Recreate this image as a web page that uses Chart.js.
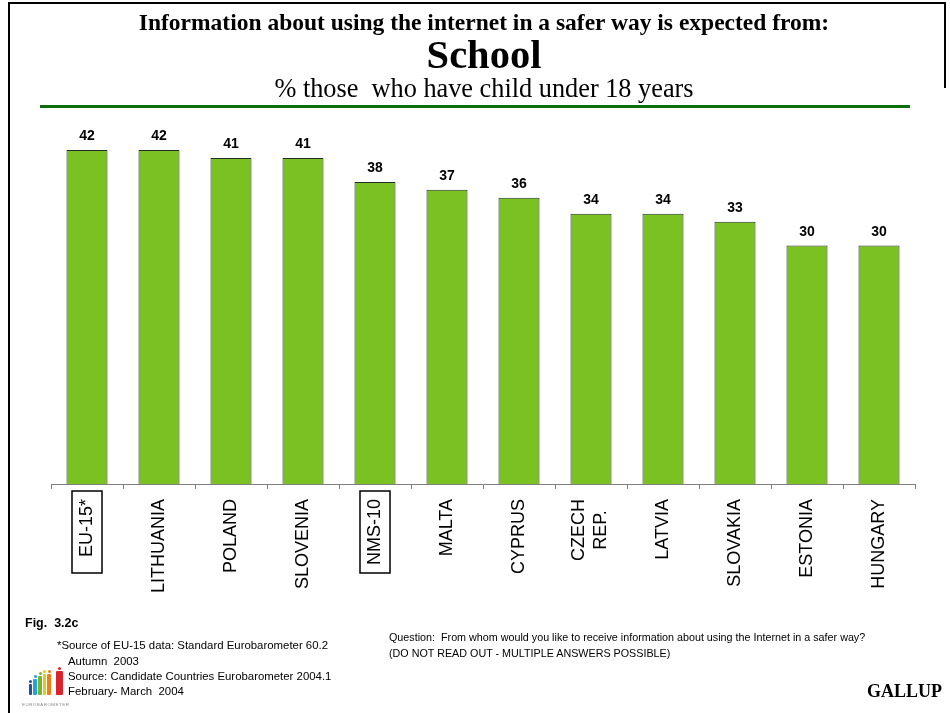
<!DOCTYPE html>
<html>
<head>
<meta charset="utf-8">
<title>School</title>
<script src="https://cdn.jsdelivr.net/npm/chart.js@4.4.0/dist/chart.umd.min.js"></script>
<style>
  html, body { margin: 0; padding: 0; background: #fff; }
  #page { position: relative; width: 950px; height: 713px; overflow: hidden; background: #fff; }
  #chart { position: absolute; left: 0; top: 0; }
  .txt { position: absolute; white-space: pre; line-height: 1; color: #000; }
  .serif { font-family: "Times New Roman", "Liberation Serif", serif; }
  .sans { font-family: Arial, "Liberation Sans", sans-serif; }
  .center { left: 0; width: 968px; text-align: center; }
  .rule { position: absolute; background: #000; }
  .logo-bar { position: absolute; border-radius: 1px; }
  .logo-head { position: absolute; width: 3px; height: 3px; border-radius: 50%; }
</style>
</head>
<body>
<div id="page">
  <canvas id="chart" width="950" height="713"></canvas>

  <!-- frame -->
  <div class="rule" style="left:8px; top:2px; width:938px; height:2px;"></div>
  <div class="rule" style="left:8px; top:2px; width:2px; height:711px;"></div>
  <div class="rule" style="left:944px; top:2px; width:2px; height:86px;"></div>

  <!-- headings -->
  <div class="txt serif center" style="top:10.5px; font-size:23.5px; font-weight:bold;">Information about using the internet in a safer way is expected from:</div>
  <div class="txt serif center" style="top:34.5px; font-size:40.5px; font-weight:bold;">School</div>
  <div class="txt serif center" style="top:76px; font-size:26.3px;">% those  who have child under 18 years</div>
  <div class="rule" style="left:40px; top:105px; width:870px; height:3px; background:#0d6e0d;"></div>

  <!-- footer notes -->
  <div class="txt sans" style="left:25px; top:616.5px; font-size:12.5px; font-weight:bold;">Fig.  3.2c</div>
  <div class="txt sans" style="left:57px; top:639.5px; font-size:11.4px;">*Source of EU-15 data: Standard Eurobarometer 60.2</div>
  <div class="txt sans" style="left:68px; top:655.5px; font-size:11.4px;">Autumn  2003</div>
  <div class="txt sans" style="left:68px; top:670.5px; font-size:11.4px;">Source: Candidate Countries Eurobarometer 2004.1</div>
  <div class="txt sans" style="left:68px; top:685.5px; font-size:11.4px;">February- March  2004</div>
  <div class="txt sans" style="left:389px; top:632px; font-size:10.75px;">Question:  From whom would you like to receive information about using the Internet in a safer way?</div>
  <div class="txt sans" style="left:389px; top:648px; font-size:10.75px;">(DO NOT READ OUT - MULTIPLE ANSWERS POSSIBLE)</div>
  <div class="txt serif" style="left:867px; top:682px; font-size:18px; font-weight:bold;">GALLUP</div>

  <!-- eurobarometer logo -->
  <div class="logo-bar" style="left:29px; top:684px; width:3px; height:11px; background:#1f4fa8;"></div>
  <div class="logo-head" style="left:29px; top:680px; background:#1f4fa8;"></div>
  <div class="logo-bar" style="left:33px; top:679px; width:4px; height:16px; background:#27a3d9;"></div>
  <div class="logo-head" style="left:33.5px; top:675px; background:#27a3d9;"></div>
  <div class="logo-bar" style="left:38px; top:676px; width:4px; height:19px; background:#74b72e;"></div>
  <div class="logo-head" style="left:38.5px; top:672px; background:#74b72e;"></div>
  <div class="logo-bar" style="left:43px; top:674px; width:3px; height:21px; background:#e8c916;"></div>
  <div class="logo-head" style="left:43px; top:670px; background:#e8c916;"></div>
  <div class="logo-bar" style="left:47px; top:674px; width:4px; height:21px; background:#ef7d1a;"></div>
  <div class="logo-head" style="left:47.5px; top:670px; background:#ef7d1a;"></div>
  <div class="logo-bar" style="left:56px; top:671px; width:7px; height:24px; background:#d9262e;"></div>
  <div class="logo-head" style="left:58px; top:667px; background:#d9262e;"></div>
  <div class="txt sans" style="left:22px; top:702px; font-size:6px; letter-spacing:0.6px; color:#8a8a8a; transform:scale(0.75,0.7); transform-origin:left top;">EUROBAROMETER</div>
</div>

<script>
// % of parents (child under 18) expecting school to inform about safer internet use
const countries = ['EU-15*', 'LITHUANIA', 'POLAND', 'SLOVENIA', 'NMS-10', 'MALTA', 'CYPRUS',
  ['CZECH', 'REP.'], 'LATVIA', 'SLOVAKIA', 'ESTONIA', 'HUNGARY'];
const schoolShare = [42, 42, 41, 41, 38, 37, 36, 34, 34, 33, 30, 30];
const boxedLabels = ['EU-15*', 'NMS-10'];

const labelFont = 'Arial, "Liberation Sans", sans-serif';

// value printed above each bar
const barValues = {
  id: 'barValues',
  afterDatasetsDraw(chart) {
    const { ctx } = chart;
    const meta = chart.getDatasetMeta(0);
    ctx.save();
    ctx.font = 'bold 14px ' + labelFont;
    ctx.fillStyle = '#000';
    ctx.textAlign = 'center';
    ctx.textBaseline = 'alphabetic';
    meta.data.forEach((bar, i) => {
      ctx.fillText(String(schoolShare[i]), bar.x, bar.y - 10);
    });
    ctx.restore();
  }
};

// two-line tick labels: lines centred on each other and on their tick
const centerMultiline = {
  id: 'centerMultiline',
  beforeDraw(chart) {
    const { ctx } = chart;
    const x = chart.scales.x;
    x.getLabelItems().forEach(item => {
      if (!Array.isArray(item.label) || item._centred) return;
      ctx.save();
      ctx.font = item.font.string;
      const widest = Math.max(...item.label.map(l => ctx.measureText(l).width));
      ctx.restore();
      const lh = item.font.lineHeight;
      item.options.translation[0] -= lh * (item.label.length - 1) / 2 + 1;
      item.options.translation[1] += widest / 2;
      item.options.textAlign = 'center';
      item._centred = true;
    });
  }
};

// frame round the aggregate categories
const labelBoxes = {
  id: 'labelBoxes',
  afterDraw(chart) {
    const { ctx } = chart;
    const x = chart.scales.x;
    ctx.save();
    ctx.strokeStyle = '#000';
    ctx.lineWidth = 1.5;
    countries.forEach((c, i) => {
      if (!boxedLabels.includes(c)) return;
      const px = Math.round(x.getPixelForValue(i));
      ctx.strokeRect(px - 15, x.top + 7, 30, 82);
    });
    ctx.restore();
  }
};

new Chart(document.getElementById('chart').getContext('2d'), {
  type: 'bar',
  data: {
    labels: countries,
    datasets: [{
      data: schoolShare,
      backgroundColor: '#7ac222',
      borderColor: '#2b2b2b',
      borderWidth: 1,
      barPercentage: 0.57,
      categoryPercentage: 1
    }]
  },
  options: {
    responsive: false,
    animation: false,
    devicePixelRatio: 1,
    layout: { padding: { left: 51, right: 35, top: 86.5, bottom: 0 } },
    plugins: {
      legend: { display: false },
      tooltip: { enabled: false }
    },
    scales: {
      x: {
        grid: { offset: true, drawOnChartArea: false, tickLength: 5, color: '#808080' },
        border: { color: '#808080', width: 1 },
        ticks: {
          autoSkip: false,
          minRotation: 90,
          maxRotation: 90,
          padding: 10,
          color: '#000',
          font: { family: labelFont, size: 18 }
        },
        afterFit(scale) { scale.height = 229; }
      },
      y: { display: false, min: 0, max: 50 }
    }
  },
  plugins: [barValues, centerMultiline, labelBoxes]
});
</script>
</body>
</html>
